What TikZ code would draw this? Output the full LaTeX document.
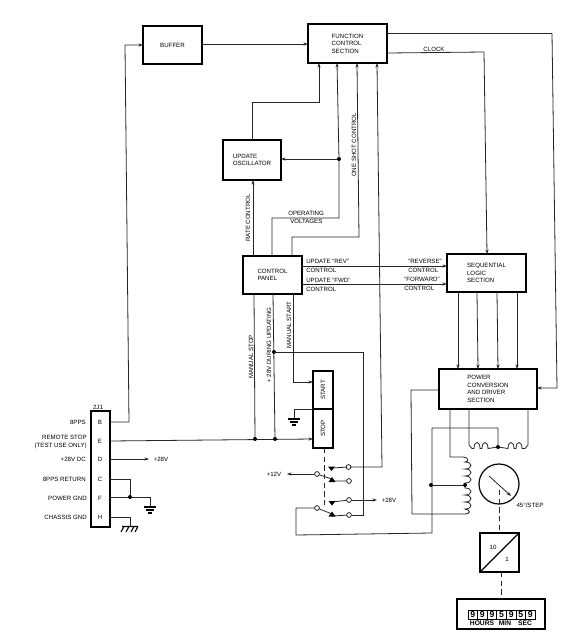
\documentclass[tikz,border=0pt]{standalone}
\usepackage{fontspec}
\setmainfont{Liberation Sans}
\usetikzlibrary{arrows.meta}
\tikzset{
  px/.style={x=0.75pt,y=-0.75pt},
  wire/.style={draw=black!85,line width=0.6pt},
  arr/.style={wire,-{Stealth[length=3.4pt,width=2.4pt]}},
  box/.style n args={2}{draw=black,line width=1.5pt,fill=white,inner sep=0pt,outer sep=0pt,
    minimum width=#1*0.75pt,minimum height=#2*0.75pt,align=left,font=\lab},
  txt/.style={inner sep=0pt,font=\lab,align=left},
  rtxt/.style={txt,rotate=90},
  dot/.style={circle,fill=black,inner sep=0pt,minimum size=3pt},
  contact/.style={circle,draw=black,fill=white,line width=0.5pt,inner sep=0pt,minimum size=3.6pt},
  linkd/.style={draw=black!85,line width=0.7pt,dash pattern=on 4pt off 2.5pt},
  gnd/.pic={\draw[line width=1pt] (-6,0)--(6,0) (-4,3)--(4,3); \draw[line width=1.2pt] (-2,6)--(2,6);},
}
\newcommand{\lab}{\fontsize{4.6}{5.6}\selectfont}
\begin{document}
\begin{tikzpicture}[px]
\useasboundingbox[fill=white] (0,0) rectangle (563,644);
% blocks
\node[box={59}{38}] (buffer) at (172.5,45) {BUFFER};
\node[box={79}{39}] (fcs) at (347.5,43.5) {FUNCTION\\CONTROL\\SECTION};
\node[box={58}{40}] (osc) at (252,160) {UPDATE\\OSCILLATOR};
\node[box={59}{38}] (panel) at (272.5,275) {CONTROL\\PANEL};
\node[box={79}{38}] (seq) at (486.5,273) {SEQUENTIAL\\LOGIC\\SECTION};
\node[box={98}{40}] (power) at (488,389) {POWER\\CONVERSION\\AND DRIVER\\SECTION};
\node[box={19}{116}] (j) at (100.5,469) {};
\node[box={20}{38}] (start) at (323,390) {};
\node[box={20}{39}] (stop) at (323,428.5) {};
\node[rtxt] (tstart) at (323,390) {START};
\node[rtxt] (tstop) at (323,428.5) {STOP};
\node[txt] (j0) at (98,407) {2J1};
\node[txt] (jB) at (100,422) {B};
\node[txt] (jE) at (100,441) {E};
\node[txt] (jD) at (100,459) {D};
\node[txt] (jC) at (100,479) {C};
\node[txt] (jF) at (100,498) {F};
\node[txt] (jH) at (100,517) {H};
\node[txt,anchor=east] (l1) at (86,422) {8PPS};
\node[txt,anchor=east,align=right] (l2) at (87,442) {REMOTE STOP\\(TEST USE ONLY)};
\node[txt,anchor=east] (l3) at (86,459) {+28V DC};
\node[txt,anchor=east] (l4) at (86,479) {8PPS RETURN};
\node[txt,anchor=east] (l5) at (87,498) {POWER GND};
\node[txt,anchor=east] (l6) at (87,517) {CHASSIS GND};
\node[txt] (p28a) at (161,459) {+28V};
% signal labels
\node[txt] (clk) at (434,49) {CLOCK};
\node[rtxt] (ones) at (354,145) {ONE SHOT CONTROL};
\node[rtxt] (rate) at (248,218) {RATE CONTROL};
\node[txt,anchor=west] (oper) at (288,213) {OPERATING};
\node[txt,anchor=west] (volt) at (290,221.5) {VOLTAGES};
\node[txt,anchor=west] (urev) at (306,261) {UPDATE ``REV''};
\node[txt,anchor=west] (crev) at (306,270.5) {CONTROL};
\node[txt,anchor=west] (ufwd) at (306,280) {UPDATE ``FWD''};
\node[txt,anchor=west] (cfwd) at (306,289) {CONTROL};
\node[txt,anchor=west] (rrev) at (408,261) {``REVERSE''};
\node[txt,anchor=west] (rctl) at (408,270) {CONTROL};
\node[txt,anchor=west] (rfwd) at (404,279) {``FORWARD''};
\node[txt,anchor=west] (fctl) at (404,288) {CONTROL};
\node[rtxt] (mstop) at (251,357) {MANUAL STOP};
\node[rtxt] (dur) at (269,345) {+ 28V DURING UPDATING};
\node[rtxt] (mstart) at (289,325) {MANUAL START};
% main connectors
\draw[arr] (j.east |- 0,422) -- (129,422) -- (125,45) -- (buffer.west |- 0,45);
\draw[arr] (buffer.east |- 0,44) -- (fcs.west |- 0,44);
\draw[arr] (252,0 |- osc.north) -- (252,102) -- (319,102) -- (319,0 |- fcs.south);
\coordinate (jo) at (339,159);
\draw[arr] (272,0 |- panel.north) -- (272,218) -- (339,218) -- (jo) -- (337,0 |- fcs.south);
\draw[arr] (jo) -- (osc.east |- jo);
\node[dot] at (jo) {};
\draw[arr] (292,0 |- panel.north) -- (292,237) -- (359,237) -- (357,0 |- fcs.south);
\draw[arr] (253,0 |- panel.north) -- (253,0 |- osc.south);
\coordinate (c1) at (348.5,467);
\draw[arr] (c1) -- (382,467) -- (377,0 |- fcs.south);
\draw[wire] (fcs.east |- 0,33) -- (552,33);
\draw[arr] (552,33) -- (557,388) -- (power.east |- 0,388);
\draw[arr] (fcs.east |- 0,53) -- (484,52) -- (487,0 |- seq.north);
\draw[arr] (panel.east |- 0,266) -- (seq.west |- 0,266);
\draw[arr] (panel.east |- 0,284) -- (seq.west |- 0,284);
\foreach \a/\b in {458/458,477/478,497/498,517/517}
  \draw[arr] (\a,0 |- seq.south) -- (\b,0 |- power.north);
% panel to stop/start
\coordinate (jm) at (255,439);
\coordinate (jd) at (275,439);
\coordinate (jt) at (274,352);
\draw[arr] (j.east |- 0,441) -- (stop.west |- 0,439);
\draw[wire] (254,0 |- panel.south) -- (jm);
\draw[wire] (273,0 |- panel.south) -- (jd);
\draw[arr] (293,0 |- panel.south) -- (293,382) -- (start.west |- 0,382);
\node[dot] at (jm) {};
\node[dot] at (jd) {};
\node[dot] at (jt) {};
% ground of switch
\draw[wire] (start.south west) -- (294,409) -- (294,419);
\pic at (294,419) {gnd};
% connector wiring
\draw[arr] (j.east |- 0,459) -- (149,459);
\coordinate (jg) at (130,497);
\draw[wire] (j.east |- 0,479) -- (130,479) -- (jg);
\draw[wire] (j.east |- 0,497) -- (150,497) -- (150,507);
\node[dot] at (jg) {};
\pic at (150,507) {gnd};
\draw[wire] (j.east |- 0,517) -- (130,517) -- (130,526);
\draw[line width=0.8pt] (122,526.5) -- (138,526.5)
  (124,526.5) -- (121,532) (129,526.5) -- (126,532) (134,526.5) -- (131,532) (138,526.5) -- (135,532);
% switches
\node[contact] (p1) at (317,474) {};
\node[contact] (p2) at (317,508) {};
\node[contact] (c2) at (349,481) {};
\node[contact] (c3) at (349,500) {};
\node[contact] (c4) at (349,515) {};
\node[contact] (c1n) at (c1) {};
\node[txt] (p12) at (274,474.5) {+12V};
\node[txt] (p28b) at (389,500.5) {+28V};
\draw[linkd] (324,0 |- stop.south) -- (324,508);
\draw[arr] (p1) -- (287,474);
\draw[arr] (c3) -- (377,500);
\draw[wire] (p1) -- (332,479) (p2) -- (332,514);
\draw[wire] (332,481) -- (c2) (332,516) -- (c4);
\draw[wire] (332,468) -- (c1n) (332,502) -- (c3);
\fill (328,466.5) -- (335,466.5) -- (331.5,471) -- cycle;
\fill (328.5,501) -- (335.5,501) -- (332,505.5) -- cycle;
\fill (328.5,482) -- (335.5,482) -- (332,477) -- cycle;
\fill (328.5,516.5) -- (335.5,516.5) -- (332,511.5) -- cycle;
\draw[wire] (c4) -- (363,515) -- (363,352) -- (jt);
\draw[wire] (p2) -- (296,508) -- (296,535) -- (432,533) -- (432,428) -- (498,428) -- (498,447);
% stepper windings
\draw[wire] (469,0 |- power.south) -- (469,445) -- (472,448.5) -- (474,448.5)
  .. controls +(0,-8) and +(0,-8) .. (480,448.5) -- (482,448.5)
  .. controls +(0,-8) and +(0,-8) .. (488,448.5) -- (498,447) -- (508,448.5)
  .. controls +(0,-8) and +(0,-8) .. (514,448.5) -- (516,448.5)
  .. controls +(0,-8) and +(0,-8) .. (522,448.5) -- (525,448.5) -- (528,445) -- (528,0 |- power.south);
\node[dot] at (498,447) {};
\draw[wire] (450,0 |- power.south) -- (450,457) -- (463,457)
  .. controls (469,457) and (469,462) .. (465,462)
  .. controls +(8,0) and +(8,0) .. (465,469)
  .. controls +(8,0) and +(8,0) .. (465,476)
  .. controls +(8,0) and +(8,0) .. (465,483) -- (465,488)
  .. controls +(8,0) and +(8,0) .. (465,495)
  .. controls +(8,0) and +(8,0) .. (465,502)
  .. controls +(8,0) and +(8,0) .. (465,509)
  .. controls (471,510) and (471,514) .. (464,514) -- (412,514) -- (411,390) -- (power.west |- 0,390);
\draw[wire] (465,485) -- (431,485);
\node[dot] at (465,485) {};
\node[dot] at (431,485) {};
% dial
\node[circle,draw=black,line width=0.9pt,inner sep=0pt,minimum size=30pt] (dial) at (499,484) {};
\draw[arr] (489,476) -- (511,496);
\node[txt] (step) at (530,505) {45°/STEP};
% gear box
\node[box={39}{39}] (gear) at (499.5,552.5) {};
\draw[line width=0.9pt] (gear.south west) -- (gear.north east);
\node[txt] (g10) at (493,547) {10};
\node[txt] (g1) at (507,559) {1};
\draw[linkd] (499,490) -- (499,0 |- gear.north);
% display
\node[box={88}{30}] (disp) at (501,614) {};
\draw[linkd] (501,0 |- gear.south) -- (501,0 |- disp.north);
\foreach \d/\v in {0/9,1/9,2/9,3/5,4/9,5/5,6/9}
  \node[draw=black,line width=0.5pt,minimum width=7.2pt,minimum height=6.8pt,inner sep=0pt,font=\fontsize{6.5}{7}\selectfont\bfseries]
    (dg\d) at (472.8+\d*9.6,614.5) {\v};
\node[txt,font=\fontsize{5}{6}\selectfont\bfseries] (hrs) at (482,623.5) {HOURS};
\node[txt,font=\fontsize{5}{6}\selectfont\bfseries] (min) at (505,623.5) {MIN};
\node[txt,font=\fontsize{5}{6}\selectfont\bfseries] (sec) at (525,623.5) {SEC};
\end{tikzpicture}
\end{document}
